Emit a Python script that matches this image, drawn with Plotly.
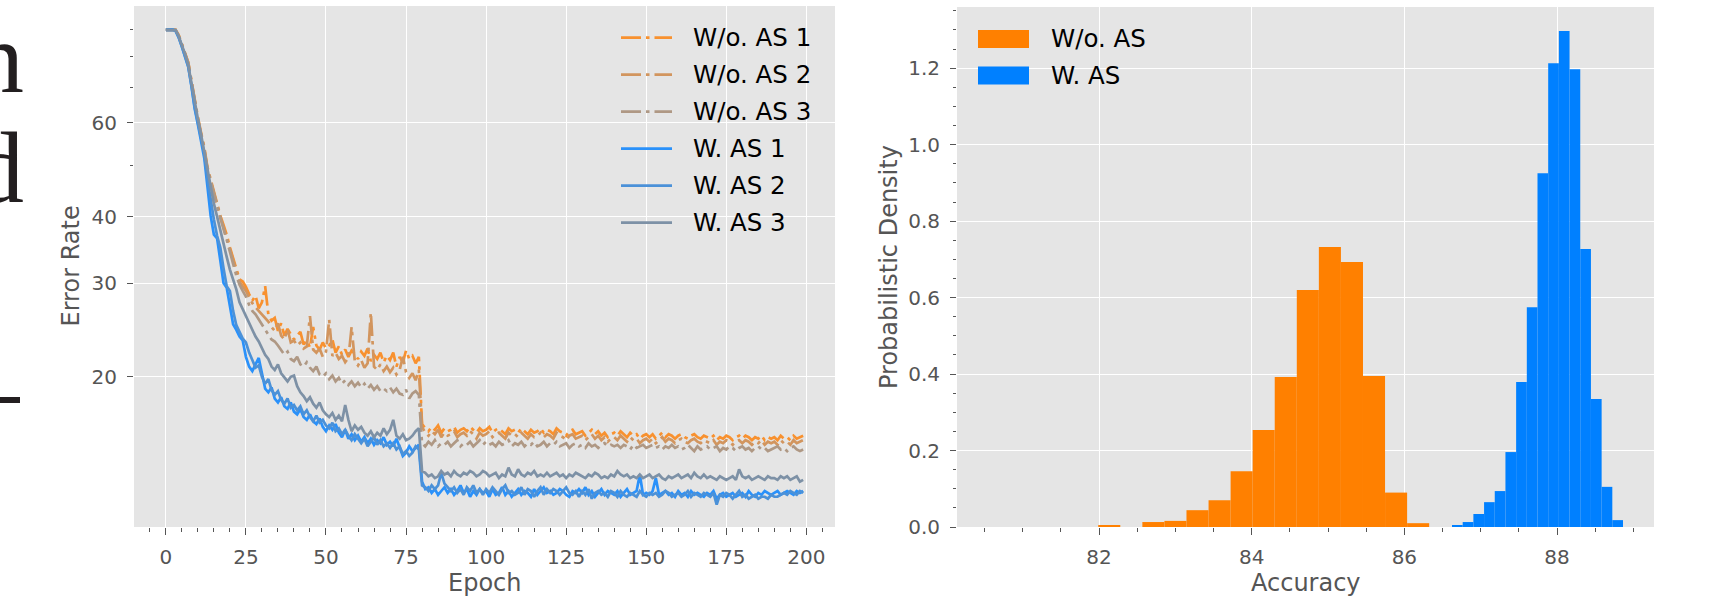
import numpy as np
import plotly.graph_objects as go

# ---------------- data ----------------
epochs = list(range(200))

wo_as_1 = [
    89.7, 89.8, 89.9, 89.8, 87.8, 84.5, 81.5, 78.0, 72.0, 66.0,
    61.5, 57.5, 54.0, 49.5, 47.0, 44.5, 42.5, 40.2, 38.6, 37.0,
    35.0, 33.4, 32.0, 30.5, 30.2, 29.5, 28.6, 27.8, 28.4, 26.9,
    27.6, 29.6, 26.2, 25.5, 25.8, 24.4, 25.2, 23.9, 24.6, 24.0,
    23.5, 23.9, 24.3, 23.0, 23.4, 22.7, 24.8, 22.9, 22.5, 23.2,
    22.6, 22.9, 23.5, 22.2, 22.8, 22.0, 22.5, 21.8, 22.4, 22.1,
    21.6, 22.3, 21.9, 22.6, 21.4, 22.0, 21.6, 22.2, 21.3, 21.9,
    21.5, 22.2, 20.9, 21.8, 21.3, 22.4, 21.6, 21.9, 21.2, 21.8,
    16.3, 16.0, 15.8, 16.1, 15.9, 16.2, 15.7, 16.0, 15.8, 15.9,
    16.1, 15.7, 15.9, 16.0, 15.8, 16.1, 15.9, 15.7, 16.0, 15.8,
    15.9, 16.1, 15.7, 15.9, 16.0, 15.8, 15.6, 16.0, 15.8, 15.9,
    15.7, 16.0, 15.8, 15.6, 15.9, 15.7, 15.8, 16.0, 15.7, 15.9,
    15.8, 15.6, 16.0, 15.8, 15.7, 15.5, 15.8, 15.9, 15.6, 15.7,
    15.8, 15.5, 15.7, 15.9, 15.6, 15.8, 15.5, 15.7, 15.4, 15.6,
    15.7, 15.5, 15.8, 15.6, 15.4, 15.7, 15.5, 15.6, 15.3, 15.5,
    15.6, 15.4, 15.6, 15.3, 15.5, 15.7, 15.4, 15.6, 15.5, 15.3,
    15.5, 15.6, 15.4, 15.3, 15.5, 15.6, 15.4, 15.3, 15.5, 15.4,
    15.3, 15.5, 15.2, 15.4, 15.3, 15.5, 15.4, 15.2, 15.4, 15.5,
    15.3, 15.5, 15.4, 15.2, 15.4, 15.3, 15.5, 15.2, 15.4, 15.3,
    15.4, 15.2, 15.5, 15.3, 15.4, 15.2, 15.5, 15.3, 15.4, 15.5,
]

wo_as_2 = [
    89.7, 89.8, 89.9, 89.7, 87.5, 84.2, 81.2, 77.6, 71.5, 65.5,
    61.0, 57.0, 53.5, 49.0, 46.5, 44.0, 42.0, 39.8, 38.2, 36.5,
    34.5, 33.0, 31.5, 30.2, 29.6, 29.0, 28.2, 27.5, 27.0, 26.6,
    26.1, 25.7, 25.4, 24.8, 24.4, 25.2, 23.9, 23.5, 24.6, 23.2,
    23.4, 22.9, 23.2, 22.6, 22.8, 26.0, 22.5, 22.2, 22.6, 21.8,
    22.3, 25.6, 21.9, 22.2, 21.6, 21.9, 21.3, 21.7, 24.8, 21.4,
    21.0, 21.5, 20.8, 21.2, 26.4, 20.9, 20.6, 21.1, 20.5, 20.9,
    20.4, 20.8, 20.2, 20.6, 21.8, 20.4, 19.9, 20.3, 19.7, 20.6,
    16.1, 15.7, 15.5, 15.8, 15.6, 15.9, 15.4, 15.7, 15.5, 15.6,
    15.8, 15.4, 15.6, 15.7, 15.5, 15.8, 15.6, 15.3, 15.7, 15.5,
    15.6, 15.8, 15.4, 15.6, 15.7, 15.5, 15.3, 15.7, 15.5, 15.6,
    15.4, 15.7, 15.5, 15.3, 15.6, 15.4, 15.5, 15.7, 15.4, 15.6,
    15.5, 15.3, 15.7, 15.5, 15.4, 15.2, 15.5, 15.6, 15.3, 15.4,
    15.5, 15.2, 15.4, 15.6, 15.3, 15.5, 15.2, 15.4, 15.1, 15.3,
    15.4, 15.2, 15.5, 15.3, 15.1, 15.4, 15.2, 15.3, 15.0, 15.2,
    15.3, 15.1, 15.3, 15.0, 15.2, 15.4, 15.1, 15.3, 15.2, 15.0,
    15.2, 15.3, 15.1, 15.0, 15.2, 15.3, 15.1, 15.0, 15.2, 15.1,
    15.0, 15.2, 14.9, 15.1, 15.0, 15.2, 15.1, 14.9, 15.1, 15.2,
    15.0, 15.2, 15.1, 14.9, 15.1, 15.0, 15.2, 14.9, 15.1, 15.0,
    15.1, 14.9, 15.2, 15.0, 15.1, 14.9, 15.2, 15.0, 15.1, 15.2,
]

wo_as_3 = [
    89.7, 89.8, 89.9, 89.8, 87.6, 84.3, 81.3, 77.8, 71.8, 65.8,
    61.2, 57.2, 53.6, 49.2, 46.6, 44.1, 42.0, 39.6, 37.9, 36.2,
    34.2, 32.6, 31.0, 29.8, 29.0, 28.3, 27.3, 26.6, 26.2, 25.6,
    25.0, 24.5, 24.0, 23.5, 23.3, 22.9, 22.4, 22.0, 22.3, 21.6,
    21.4, 21.8, 21.1, 20.9, 21.3, 20.8, 20.5, 20.9, 20.2, 20.0,
    20.3, 19.8, 20.1, 19.6, 19.9, 19.4, 19.7, 19.3, 19.6, 19.2,
    19.5, 19.1, 19.4, 19.0, 19.3, 18.9, 19.2, 18.8, 19.0, 18.8,
    19.1, 18.7, 19.0, 18.6, 18.5, 18.9, 18.2, 18.6, 18.8, 18.5,
    15.0, 14.8, 15.1, 14.9, 15.2, 14.8, 15.0, 14.9, 15.1, 14.8,
    15.0, 15.2, 14.8, 15.0, 14.9, 15.1, 14.8, 15.0, 15.2, 14.9,
    15.1, 14.9, 15.0, 14.8, 15.1, 14.9, 15.0, 15.2, 14.8, 15.0,
    14.9, 15.1, 14.8, 15.0, 14.9, 15.1, 14.8, 14.9, 15.1, 14.8,
    15.0, 14.9, 15.1, 14.8, 14.9, 15.0, 14.7, 14.9, 15.0, 14.8,
    14.9, 14.7, 15.0, 14.8, 14.9, 14.7, 14.9, 15.0, 14.8, 14.9,
    14.8, 14.9, 14.7, 14.9, 14.8, 14.6, 14.9, 14.7, 14.8, 14.9,
    14.7, 14.8, 14.9, 14.7, 14.8, 14.6, 14.8, 14.7, 14.9, 14.7,
    14.8, 14.6, 14.7, 14.9, 14.7, 14.5, 14.8, 14.6, 14.7, 14.8,
    14.6, 14.7, 14.8, 14.5, 14.7, 14.6, 14.8, 14.7, 14.5, 14.7,
    14.8, 14.6, 14.7, 14.5, 14.7, 14.8, 14.6, 14.7, 14.5, 14.6,
    14.7, 14.8, 14.6, 14.7, 14.5, 14.7, 14.8, 14.6, 14.5, 14.6,
]

w_as_1 = [
    89.7, 89.7, 89.8, 89.4, 86.8, 83.4, 80.1, 76.4, 70.2, 63.8,
    59.6, 55.4, 51.5, 45.5, 40.1, 37.0, 36.4, 33.1, 30.0, 29.4,
    27.0, 25.1, 24.5, 23.8, 23.4, 21.8, 20.9, 20.5, 21.1, 21.7,
    20.3, 19.0, 18.7, 19.1, 18.2, 17.9, 18.3, 17.6, 17.4, 17.9,
    17.2, 17.0, 17.4, 16.8, 16.6, 17.0, 16.5, 16.3, 16.7, 16.1,
    15.8, 16.2, 15.9, 16.3, 15.7, 15.4, 15.9, 15.3, 15.6, 15.2,
    15.5, 15.1, 15.4, 15.0, 15.3, 14.9, 15.2, 15.0, 15.4, 14.9,
    15.1, 14.8, 15.3, 14.7, 14.2, 14.4, 14.8, 14.5, 14.7, 14.9,
    12.7, 12.3, 12.4, 12.1, 12.3, 12.0, 12.2, 12.4, 12.1, 12.3,
    12.0, 12.2, 12.5, 12.1, 12.3, 11.9, 12.2, 12.0, 12.3, 12.1,
    12.2, 11.9, 12.3, 12.0, 12.1, 12.4, 12.0, 12.2, 11.9, 12.1,
    12.3, 12.0, 12.2, 12.1, 11.9, 12.3, 12.0, 12.2, 12.4, 12.1,
    12.2, 12.0, 12.1, 12.3, 12.2, 12.0, 11.9, 12.2, 12.1, 12.3,
    12.1, 12.4, 12.0, 12.2, 11.9, 12.1, 12.3, 12.0, 12.2, 12.1,
    12.0, 12.2, 11.9, 12.1, 12.3, 12.0, 12.1, 12.2, 13.1, 12.0,
    12.1, 12.0, 12.2, 12.9, 12.0, 12.1, 12.2, 12.0, 12.1, 11.9,
    12.2, 12.0, 12.1, 11.9, 12.2, 12.0, 12.1, 12.0, 11.9, 12.1,
    12.0, 12.2, 11.8, 12.0, 12.1, 11.9, 12.0, 12.1, 11.9, 12.0,
    12.1, 11.9, 12.2, 12.0, 11.9, 12.1, 12.0, 12.2, 12.1, 12.0,
    12.1, 12.2, 12.0, 12.1, 12.2, 12.1, 12.0, 12.2, 12.1, 12.2,
]

w_as_2 = [
    89.7, 89.7, 89.8, 89.5, 87.0, 83.6, 80.3, 76.6, 70.5, 64.2,
    60.0, 56.0, 52.5, 47.0, 43.0, 39.5, 36.8, 35.0, 32.0, 29.6,
    29.0, 26.6, 25.0, 24.2, 23.6, 23.2, 22.2, 21.5, 20.8, 21.0,
    20.0, 19.4, 19.8, 18.9, 18.5, 18.8, 18.1, 17.8, 18.2, 17.5,
    17.7, 17.3, 17.6, 17.0, 17.3, 16.8, 16.5, 16.9, 16.4, 16.6,
    16.2, 16.0, 16.4, 15.8, 16.0, 15.6, 15.9, 15.5, 15.2, 15.6,
    15.3, 15.0, 15.3, 14.8, 15.1, 15.4, 14.9, 15.2, 14.8, 15.0,
    14.7, 15.0, 14.6, 14.8, 14.3, 14.5, 14.2, 14.4, 14.8, 14.6,
    12.5, 12.4, 12.2, 12.5, 12.3, 12.5, 13.2, 12.6, 12.4, 12.2,
    12.4, 12.1, 12.3, 12.0, 12.4, 12.2, 12.5, 12.1, 12.3, 12.0,
    12.3, 12.1, 12.4, 12.2, 12.0, 12.3, 12.5, 12.1, 12.2, 12.0,
    12.1, 12.4, 12.0, 12.3, 12.2, 11.9, 12.2, 12.4, 12.0, 12.3,
    12.1, 12.3, 12.2, 12.0, 12.2, 12.4, 12.1, 12.0, 12.2, 11.9,
    12.2, 12.0, 12.3, 11.8, 12.1, 12.2, 12.0, 12.1, 11.9, 12.2,
    12.1, 11.9, 12.2, 12.0, 11.9, 12.1, 12.0, 11.9, 12.2, 12.0,
    11.9, 12.1, 12.0, 12.1, 11.9, 12.0, 12.2, 12.1, 11.9, 12.0,
    12.1, 11.9, 12.0, 12.2, 11.9, 12.1, 12.0, 11.9, 12.1, 12.0,
    11.9, 12.1, 11.5, 12.0, 11.9, 12.1, 12.0, 11.8, 12.0, 12.2,
    11.9, 12.0, 11.8, 11.9, 12.0, 11.8, 11.9, 11.9, 11.8, 12.0,
    11.9, 11.9, 12.0, 12.1, 12.0, 12.2, 12.1, 12.0, 12.2, 12.1,
]

w_as_3 = [
    89.7, 89.7, 89.8, 89.6, 87.3, 84.0, 80.8, 77.0, 71.0, 65.0,
    61.0, 57.0, 53.0, 48.5, 45.2, 42.3, 40.0, 37.6, 35.6, 33.6,
    31.8, 30.5, 29.2, 27.6, 26.8, 25.9, 25.2, 24.4, 23.8, 23.3,
    22.6, 22.0, 21.6, 20.9, 20.6, 21.1, 20.3, 19.9, 19.6, 20.0,
    20.1, 19.2, 18.7, 18.4, 18.0, 18.3, 17.8, 17.5, 17.9, 17.3,
    17.0, 16.8, 17.1, 16.6, 16.9, 16.5, 17.7, 16.6, 15.8, 16.2,
    15.9, 16.1, 15.7, 15.5, 15.8, 15.4, 15.7, 15.5, 16.0, 15.6,
    15.9, 16.6, 15.5, 15.3, 15.6, 15.2, 15.3, 15.5, 15.8, 16.0,
    13.3, 13.2, 13.0, 13.1, 12.9, 13.0, 13.3, 13.1, 13.2, 13.0,
    13.3, 13.1, 13.0, 13.2, 13.1, 13.3, 13.2, 13.0, 13.1, 13.3,
    13.2, 13.0, 13.1, 13.2, 12.9, 13.1, 13.0, 13.5, 13.1, 13.0,
    13.4, 13.1, 13.0, 13.2, 13.1, 13.3, 13.0, 13.1, 13.0, 13.2,
    13.0, 13.1, 13.2, 13.0, 13.1, 12.9, 13.1, 13.0, 13.2, 13.1,
    13.0, 12.9, 13.1, 13.0, 13.2, 13.1, 12.9, 13.0, 12.9, 13.1,
    13.0, 13.3, 13.1, 13.0, 13.1, 12.9, 13.0, 12.9, 13.1, 12.9,
    13.0, 13.1, 12.9, 13.0, 13.1, 12.9, 12.8, 13.0, 12.9, 13.0,
    13.1, 12.9, 13.0, 13.1, 12.9, 13.2, 13.0, 12.9, 13.1, 12.9,
    13.0, 12.9, 12.8, 13.0, 12.9, 12.8, 12.9, 13.0, 12.8, 13.4,
    13.0, 12.9, 13.0, 12.8, 12.9, 13.0, 12.9, 12.8, 13.0, 12.9,
    12.9, 12.8, 13.0, 12.9, 13.0, 12.8, 12.9, 13.0, 12.7, 12.8,
]

line_names = ["W/o. AS 1", "W/o. AS 2", "W/o. AS 3", "W. AS 1", "W. AS 2", "W. AS 3"]
line_data = [wo_as_1, wo_as_2, wo_as_3, w_as_1, w_as_2, w_as_3]

# histogram (density) bins
wo_bin_start = 81.99
wo_bin_width = 0.289
wo_density = [0.005, 0.0, 0.013, 0.016, 0.044, 0.070, 0.146, 0.254,
              0.392, 0.620, 0.732, 0.693, 0.395, 0.090, 0.010]
w_bin_start = 86.624
w_bin_width = 0.140
w_density = [0.005, 0.013, 0.034, 0.065, 0.094, 0.196, 0.379, 0.575,
             0.925, 1.213, 1.297, 1.197, 0.727, 0.335, 0.105, 0.018]
hist_names = ["W/o. AS", "W. AS"]

left_xticks = [0, 25, 50, 75, 100, 125, 150, 175, 200]
left_yticks = [20, 30, 40, 60]
left_yminor = [50, 70, 80, 90]
right_xticks = [82, 84, 86, 88]

# ---------------- style ----------------
W, H = 1709, 598
def X(px):
    return px / W
def Y(py):
    return 1 - py / H

line_colors = ["#F8912F", "#D2955E", "#AF9884", "#2A91FA", "#4B91D8", "#7D91A6"]
line_dash = ["20px,5px,3.5px,5px"] * 3 + ["solid"] * 3
hist_colors = ["#FF8000", "#0080FF"]
FONT = "DejaVu Sans"
TICK = "#555555"

fig = go.Figure()
for name, ys, c, d in zip(line_names, line_data, line_colors, line_dash):
    fig.add_trace(go.Scatter(
        x=epochs, y=ys, mode="lines", name=name,
        line=dict(color=c, width=2.7, dash=d),
        xaxis="x", yaxis="y", showlegend=False))

for name, start, width, dens, c in zip(
        hist_names, [wo_bin_start, w_bin_start], [wo_bin_width, w_bin_width],
        [wo_density, w_density], hist_colors):
    centers = start + width * (np.arange(len(dens)) + 0.5)
    fig.add_trace(go.Bar(
        x=centers, y=dens, width=width, name=name,
        marker=dict(color=c, line=dict(width=0)),
        xaxis="x2", yaxis="y2", showlegend=False))

tickfont = dict(family=FONT, size=20, color=TICK)
common = dict(ticks="outside", tickcolor=TICK, tickwidth=1.2,
              showgrid=True, gridcolor="white", gridwidth=1.4,
              zeroline=False, showline=False, tickfont=tickfont,
              automargin=False)

fig.update_layout(
    width=W, height=H,
    margin=dict(l=0, r=0, t=0, b=0, pad=0, autoexpand=False),
    paper_bgcolor="white", plot_bgcolor="#E5E5E5",
    font=dict(family=FONT),
    barmode="overlay", showlegend=False,
    xaxis=dict(domain=[X(134), X(835)], range=[-9.95, 208.95], anchor="y",
               tickmode="array", tickvals=left_xticks, ticklen=7,
               ticklabelstandoff=5,
               minor=dict(dtick=5, tick0=0, ticks="outside", ticklen=4,
                          tickcolor=TICK, tickwidth=1.2, showgrid=False),
               **common),
    yaxis=dict(domain=[Y(527), Y(6)], type="log",
               range=[np.log10(10.44), np.log10(99.5)], anchor="x",
               tickmode="array", tickvals=left_yticks,
               ticktext=[str(v) for v in left_yticks], ticklen=6,
               ticklabelstandoff=6,
               minor=dict(tickmode="array", tickvals=left_yminor, ticks="outside",
                          ticklen=3.5, tickcolor=TICK, tickwidth=1.2, showgrid=False),
               **common),
    xaxis2=dict(domain=[X(957), X(1654)], range=[80.14, 89.27], anchor="y2",
                tickmode="array", tickvals=right_xticks, ticklen=7,
                ticklabelstandoff=5,
                minor=dict(dtick=0.5, tick0=80, ticks="outside", ticklen=4,
                           tickcolor=TICK, tickwidth=1.2, showgrid=False),
                **common),
    yaxis2=dict(domain=[Y(527), Y(7)], range=[0, 1.36], anchor="x2",
                dtick=0.2, tick0=0, tickformat=".1f", ticklen=6,
                ticklabelstandoff=6,
                minor=dict(dtick=0.05, tick0=0, ticks="outside", ticklen=3.5,
                           tickcolor=TICK, tickwidth=1.2, showgrid=False),
                **common),
)

annotations = []
shapes = []
lab = dict(family=FONT, size=24, color=TICK)
annotations += [
    dict(text="Epoch", x=X(484.5), y=Y(583), xref="paper", yref="paper",
         xanchor="center", yanchor="middle", showarrow=False, font=lab),
    dict(text="Error Rate", x=X(70), y=Y(266.5), xref="paper", yref="paper",
         xanchor="center", yanchor="middle", showarrow=False, font=lab, textangle=-90),
    dict(text="Accuracy", x=X(1305.5), y=Y(583), xref="paper", yref="paper",
         xanchor="center", yanchor="middle", showarrow=False, font=lab),
    dict(text="Probabilistic Density", x=X(889), y=Y(267), xref="paper", yref="paper",
         xanchor="center", yanchor="middle", showarrow=False, font=lab, textangle=-90),
]

# left legend (lines)
leg_font = dict(family=FONT, size=24.5, color="black")
for i, (name, c, d) in enumerate(zip(line_names, line_colors, line_dash)):
    yc = 37.7 + 37 * i
    shapes.append(dict(type="line", xref="paper", yref="paper",
                       x0=X(621), x1=X(672), y0=Y(yc), y1=Y(yc),
                       line=dict(color=c, width=2.8, dash=d)))
    annotations.append(dict(text=name, x=X(691), y=Y(yc), xref="paper", yref="paper",
                            xanchor="left", yanchor="middle", showarrow=False,
                            font=leg_font))

# right legend (patches)
for i, (name, c) in enumerate(zip(hist_names, hist_colors)):
    yc = 39 + 36.5 * i
    shapes.append(dict(type="rect", xref="paper", yref="paper",
                       x0=X(978), x1=X(1029), y0=Y(yc - 9), y1=Y(yc + 9),
                       fillcolor=c, line=dict(width=0)))
    annotations.append(dict(text=name, x=X(1049), y=Y(yc), xref="paper", yref="paper",
                            xanchor="left", yanchor="middle", showarrow=False,
                            font=leg_font))

# fragments of neighbouring page text at the left edge
serif = dict(family="Liberation Serif", size=102, color="#231F20")
annotations += [
    dict(text="n", x=X(26), y=Y(57.5), xref="paper", yref="paper",
         xanchor="right", yanchor="middle", showarrow=False, font=serif),
    dict(text="d", x=X(26), y=Y(167.5), xref="paper", yref="paper",
         xanchor="right", yanchor="middle", showarrow=False, font=serif),
]
shapes.append(dict(type="rect", xref="paper", yref="paper",
                   x0=X(-5), x1=X(20), y0=Y(403), y1=Y(397),
                   fillcolor="#231F20", line=dict(width=0)))

fig.update_layout(annotations=annotations, shapes=shapes)
fig.write_html(
    "out.html",
    config={"displayModeBar": False},
    post_script=(
        "document.documentElement.style.margin='0px';"
        "document.documentElement.style.overflow='hidden';"
        "document.body.style.margin='0px';"
        "document.body.style.overflow='hidden';"
    ),
)
